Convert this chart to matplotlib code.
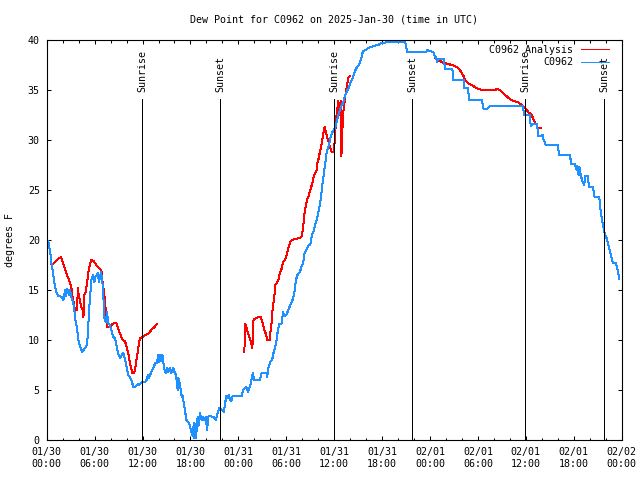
import numpy as np
import matplotlib
matplotlib.use("Agg")
import matplotlib.pyplot as plt
from matplotlib.ticker import MultipleLocator

plt.rcParams['font.family'] = ['DejaVu Sans Mono']
plt.rcParams['font.size'] = 7.2

title = "Dew Point for C0962 on 2025-Jan-30 (time in UTC)"
ylabel = "degrees F"

# hours since 2025-01-30 00:00 UTC
obs_hours = [0.0, 0.2, 0.4, 0.6, 0.8, 1.04, 1.25, 1.45, 1.9, 2.1, 2.3, 2.4, 2.6, 2.8, 2.9, 3.1, 3.3, 3.46,
             3.6, 3.8, 3.96, 4.2, 4.46, 4.7, 4.96, 5.1, 5.2, 5.3, 5.5, 5.6, 5.8, 5.96, 6.1, 6.4, 6.55, 6.8,
             6.96, 7.1, 7.2, 7.4, 7.55, 7.7, 7.9, 8.1, 8.3, 8.55, 8.77, 9.0, 9.2, 9.4, 9.6, 9.8, 10.0, 10.2,
             10.4, 10.6, 10.85, 11.1, 11.4, 11.6, 11.9, 12.3, 12.5, 12.7, 12.8, 13.1, 13.35, 13.6, 13.8, 14.0,
             14.1, 14.3, 14.4, 14.5, 14.7, 14.9, 15.05, 15.2, 15.4, 15.6, 15.85, 16.0, 16.2, 16.4, 16.5, 16.7,
             16.9, 17.0, 17.2, 17.3, 17.5, 17.7, 17.9, 18.2, 18.3, 18.4, 18.5, 18.7, 18.9, 19.0, 19.2, 19.4,
             19.55, 19.7, 19.9, 20.1, 20.2, 20.4, 20.9, 21.2, 21.4, 21.6, 21.9, 22.2, 22.3, 22.5, 22.6, 22.8,
             22.95, 23.1, 23.3, 24.4, 24.6, 24.8, 25.0, 25.2, 25.5, 25.8, 26.0, 26.7, 26.9, 27.5, 27.6, 27.75,
             28.0, 28.25, 28.4, 28.6, 28.8, 28.9, 29.1, 29.4, 29.6, 29.75, 30.0, 30.25, 30.5, 30.7, 30.9, 31.1,
             31.2, 31.4, 31.7, 31.9, 32.1, 32.3, 32.6, 32.8, 33.0, 33.2, 33.4, 33.6, 33.8, 34.0, 34.2, 34.35,
             34.5, 34.65, 34.85, 35.06, 35.3, 35.5, 35.7, 35.9, 36.1, 36.3, 36.5, 36.7, 36.9, 37.1, 37.35, 37.6,
             37.8, 38.0, 38.2, 38.4, 38.6, 38.8, 39.0, 39.2, 39.4, 39.6, 39.9, 40.3, 40.9, 41.5, 41.95, 42.8,
             44.9, 45.15, 47.5, 47.65, 47.9, 48.4, 48.6, 48.75, 48.9, 49.0, 49.7, 49.9, 50.8, 50.9, 52.2, 52.3,
             52.75, 52.9, 54.5, 54.7, 55.1, 55.5, 59.6, 59.8, 60.5, 60.6, 60.8, 61.35, 61.5, 61.56, 62.0, 62.1,
             62.2, 62.5, 64.0, 64.15, 65.5, 65.7, 66.15, 66.35, 66.45, 66.6, 66.7, 66.9, 67.1, 67.3, 67.45,
             67.75, 67.9, 68.4, 68.6, 69.2, 69.3, 69.5, 69.7, 69.85, 70.1, 70.5, 70.7, 70.9, 71.25, 71.5, 71.7]
obs_values = [20.1, 19.8, 19.0, 17.7, 16.7, 15.3, 14.7, 14.4, 14.3, 14.0, 15.0, 14.4, 15.1, 14.5, 15.0, 14.3, 13.8, 13.0,
              12.0, 11.2, 10.0, 9.3, 8.8, 9.1, 9.3, 10.0, 11.3, 13.0, 15.0, 16.0, 16.5, 15.8, 16.3, 16.7, 15.8, 16.8,
              16.0, 14.3, 12.3, 11.8, 12.8, 11.7, 11.5, 11.0, 10.3, 10.2, 9.3, 8.5, 8.2, 8.5, 8.7, 8.1, 7.3, 6.5,
              6.3, 6.0, 5.3, 5.3, 5.6, 5.5, 5.8, 5.8, 6.0, 6.5, 6.2, 6.8, 7.2, 7.7, 7.7, 8.5,
              7.8, 8.5, 7.9, 8.5, 7.2, 6.7, 7.2, 6.8, 7.2, 6.7, 7.2, 6.8, 6.5, 5.0, 6.2, 5.5,
              4.3, 4.5, 3.5, 3.0, 2.0, 1.8, 1.5, 0.5, 1.3, 0.2, 1.7, 0.2, 2.3, 1.4, 2.7, 2.0,
              2.3, 2.0, 2.3, 1.0, 2.3, 2.4, 2.3, 2.0, 2.7, 3.2, 3.0, 2.8, 3.5, 4.4, 4.2, 4.5,
              4.0, 3.9, 4.4, 4.4, 5.0, 5.2, 5.3, 4.8, 5.5, 6.7, 6.0, 6.0, 6.7, 6.7, 6.3, 7.2,
              7.8, 8.1, 8.7, 9.3, 10.0, 10.7, 11.6, 11.6, 12.8, 12.4, 12.5, 13.0, 13.5, 13.8, 14.3, 15.2,
              16.0, 16.5, 16.8, 17.3, 17.7, 18.7, 19.2, 19.5, 19.5, 20.5, 20.8, 21.5, 22.0, 22.7, 23.5, 24.3,
              25.5, 26.3, 27.5, 28.8, 29.4, 30.1, 30.7, 30.9, 31.2, 31.8, 32.4, 33.0, 33.4, 33.7, 34.4, 34.9,
              35.2, 35.7, 36.0, 36.4, 36.9, 37.2, 37.4, 37.7, 38.2, 38.9, 39.0, 39.2, 39.4, 39.5, 39.7, 39.8,
              39.8, 38.8, 38.8, 39.0, 38.9, 38.8, 38.4, 38.2, 37.8, 38.1, 38.1, 37.1, 37.1, 36.0, 36.0, 35.2,
              35.2, 34.0, 34.0, 33.1, 33.1, 33.4, 33.4, 32.5, 32.5, 31.4, 31.6, 31.6, 31.0, 30.4, 30.4, 30.5,
              30.1, 29.5, 29.5, 28.5, 28.5, 27.6, 27.6, 27.0, 27.4, 26.5, 27.3, 26.4, 25.8, 25.5, 26.4,
              26.4, 25.3, 25.3, 24.3, 24.3, 23.3, 22.2, 21.3, 20.7, 20.2, 19.0, 18.3, 17.7, 17.7, 17.0, 16.1]

nan = float('nan')
ana_hours = [0.54, 0.8, 1.04, 1.4, 1.8, 1.95, 2.1, 2.3, 2.5, 2.7, 2.8, 3.0, 3.1, 3.2, 3.3, 3.46, 3.5, 3.8, 3.9,
             4.0, 4.2, 4.3, 4.5, 4.6, 4.7, 4.9, 5.05, 5.2, 5.4, 5.6, 5.85, 6.05, 6.26, 6.46, 6.7, 6.9, 7.0, 7.2,
             7.35, 7.5, 7.6, 7.9, 8.1, 8.4, 8.7, 8.9, 9.1, 9.3, 9.5, 9.8, 10.0, 10.2, 10.4, 10.6, 10.7, 10.97,
             11.15, 11.3, 11.4, 11.56, 11.7, 11.97, 12.3, 12.65, 12.9, 13.2, 13.5, 13.8, 19.0,
             24.75, 24.85, 25.05, 25.2, 25.5, 25.6, 25.75, 25.9, 26.2, 26.5, 26.8, 27.0, 27.25, 27.5, 27.6, 27.9,
             28.0, 28.2, 28.3, 28.5, 28.6, 28.8, 29.0, 29.2, 29.4, 29.6, 29.85, 30.05, 30.25, 30.5, 30.7, 31.1,
             31.7, 31.9, 32.1, 32.2, 32.3, 32.6, 32.8, 33.0, 33.2, 33.4, 33.6, 33.8, 33.9, 34.1, 34.2, 34.35,
             34.5, 34.6, 34.8, 34.9, 35.1, 35.3, 35.5, 35.7, 35.95, 36.1, 36.2, 36.3, 36.5, 36.65, 36.8, 36.9,
             37.0, 37.1, 37.2, 37.35, 37.5, 37.6, 37.8, 38.0, 43.0,
             48.6, 48.8, 49.0, 49.25, 49.5, 49.7, 50.3, 50.7, 51.1, 51.5, 51.75, 51.97, 52.2, 52.4, 52.6, 52.9,
             53.2, 53.6, 54.05, 54.5, 55.3, 56.1, 56.4, 56.8, 57.1, 57.4, 57.7, 58.0, 58.4, 59.0, 59.45, 59.9,
             60.3, 60.7, 60.9, 61.1, 61.35, 61.5, 61.9]
ana_values = [17.6, 17.6, 17.8, 18.1, 18.3, 17.9, 17.6, 17.1, 16.6, 16.2, 16.0, 15.5, 15.2, 14.5, 14.0, 13.5, 13.0, 13.0, 15.2,
              14.5, 13.8, 13.3, 13.0, 12.3, 14.5, 14.8, 15.7, 16.7, 17.5, 18.0, 17.9, 17.7, 17.4, 17.3, 17.1, 16.8, 15.7, 14.7,
              13.3, 12.2, 11.3, 11.3, 11.5, 11.7, 11.7, 11.3, 10.8, 10.4, 10.0, 9.9, 9.3, 8.7, 7.8, 7.1, 6.7, 6.7,
              7.5, 8.3, 8.8, 9.7, 10.2, 10.3, 10.5, 10.6, 10.8, 11.1, 11.3, 11.6, nan,
              8.8, 11.6, 11.2, 10.7, 10.0, 9.7, 9.2, 12.0, 12.2, 12.3, 12.3, 11.8, 11.0, 10.5, 10.0, 10.0,
              10.7, 12.0, 13.3, 14.3, 15.5, 15.7, 16.0, 16.7, 17.1, 17.8, 18.0, 18.5, 19.2, 19.8, 20.0, 20.1,
              20.2, 20.3, 21.2, 22.0, 22.8, 24.0, 24.4, 25.0, 25.5, 26.2, 26.7, 27.0, 27.7, 28.3, 28.8, 29.3,
              30.0, 30.5, 31.3, 31.0, 30.3, 29.8, 29.2, 28.8, 28.8, 30.2, 31.7, 32.5, 33.9, 32.5, 33.9, 28.4,
              30.5, 32.5, 33.2, 34.2, 34.9, 35.5, 36.3, 36.4, nan,
              38.2, 38.1, 38.0, 37.9, 37.8, 37.7, 37.6, 37.5, 37.4, 37.2, 37.0, 36.7, 36.4, 36.0, 35.8, 35.6,
              35.5, 35.3, 35.1, 35.0, 35.0, 35.0, 35.1, 35.0, 34.7, 34.5, 34.3, 34.1, 33.9, 33.8, 33.5, 33.2,
              32.8, 32.5, 32.2, 31.8, 31.5, 31.2, 31.2]

sun_hours = [11.97, 21.74, 36.01, 45.78, 59.93, 69.82]
sun_labels = ["Sunrise", "Sunset", "Sunrise", "Sunset", "Sunrise", "Sunset"]

xtick_hours = list(range(0, 73, 6))
xtick_labels = ["01/30\n00:00", "01/30\n06:00", "01/30\n12:00", "01/30\n18:00",
                "01/31\n00:00", "01/31\n06:00", "01/31\n12:00", "01/31\n18:00",
                "02/01\n00:00", "02/01\n06:00", "02/01\n12:00", "02/01\n18:00",
                "02/02\n00:00"]
ytick_values = list(range(0, 41, 5))

fig = plt.figure(figsize=(6.4, 4.8), dpi=100)
ax = fig.add_axes([46.7 / 640, 40 / 480, 575 / 640, 400 / 480])

LW = 0.72
ax.plot(ana_hours, ana_values, color='#ff0000', lw=LW, label='C0962 Analysis', antialiased=False)
ax.plot(obs_hours, obs_values, color='#1e90ff', lw=LW, label='C0962', antialiased=False)

for h, lab in zip(sun_hours, sun_labels):
    ax.plot([h, h], [0, 34.1], color='black', lw=LW, antialiased=False)
    ax.text(h, 34.75, lab, rotation=90, ha='center', va='bottom')

ax.set_xlim(0, 72)
ax.set_ylim(0, 40)
ax.set_xticks(xtick_hours)
ax.set_xticklabels(xtick_labels)
ax.xaxis.set_minor_locator(MultipleLocator(2))
ax.set_yticks(ytick_values)
ax.tick_params(which='both', direction='in', top=True, right=True, width=0.75)
ax.tick_params(which='major', length=3.2, pad=5)
ax.tick_params(which='minor', length=1.8)
for s in ax.spines.values():
    s.set_linewidth(0.8)

ax.legend(loc='upper right', bbox_to_anchor=(0.978, 0.988), frameon=False, markerfirst=False,
          handlelength=2.8, handletextpad=0.8, labelspacing=0.25, borderpad=0, borderaxespad=0)

fig.text((46.7 + 621.7) / 2 / 640, 1 - 20 / 480, title, ha='center', va='center')
fig.text(10 / 640, 0.5, ylabel, rotation=90, ha='center', va='center')

fig.savefig('out.png', dpi=100)
